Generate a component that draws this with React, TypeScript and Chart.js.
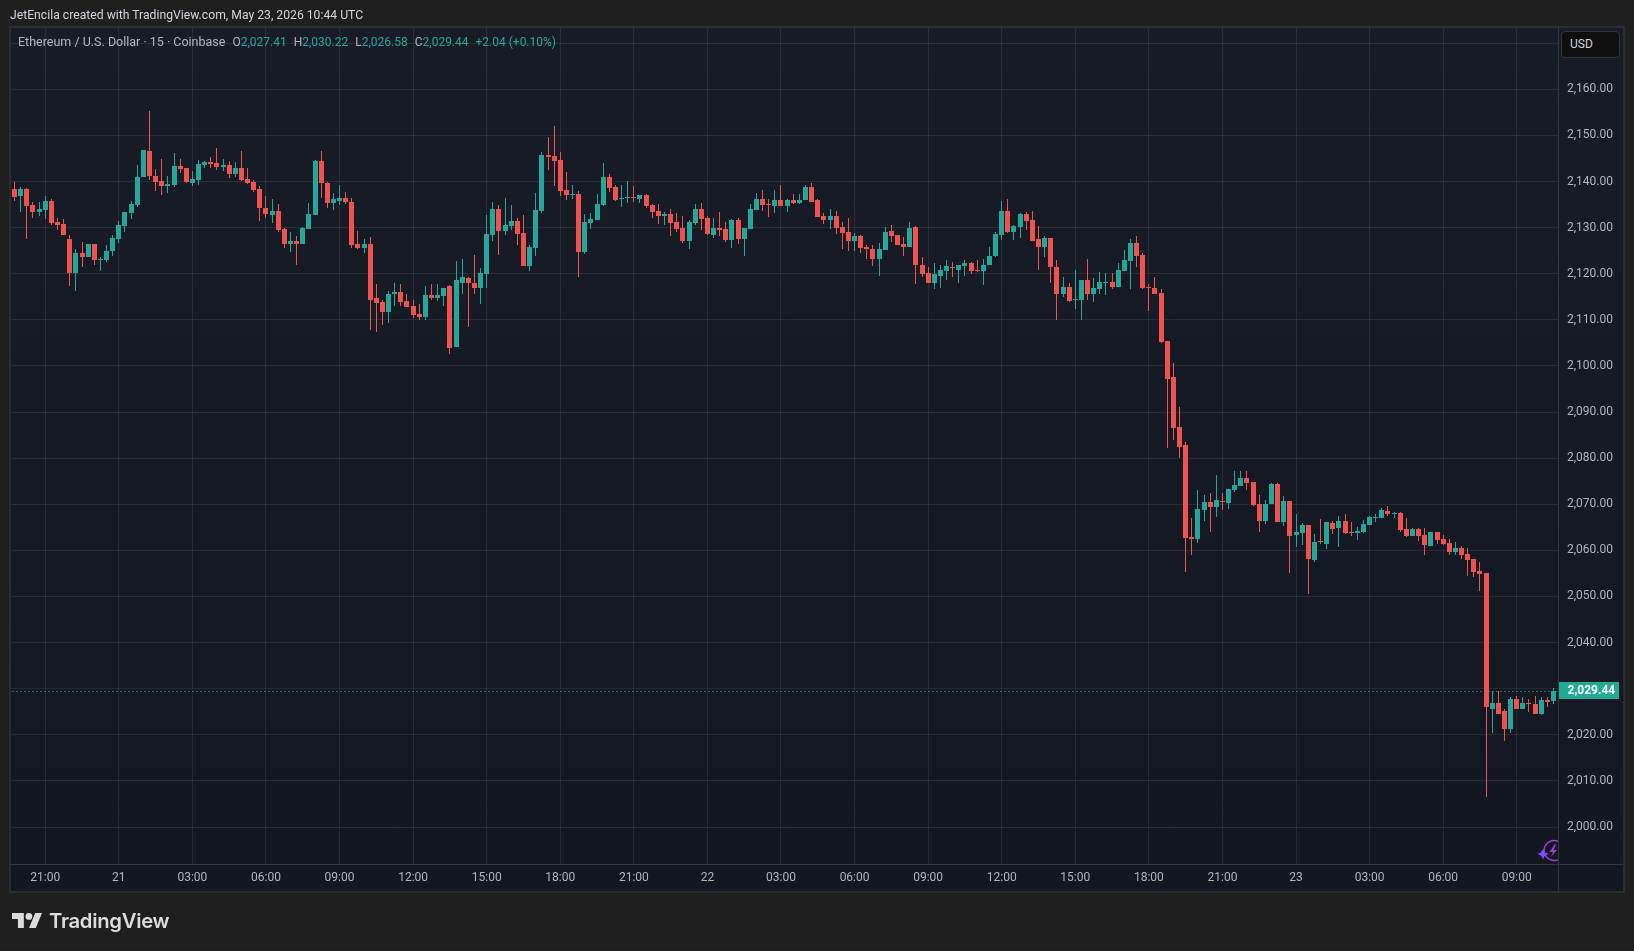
import React, { useEffect, useRef } from "react";
import { Chart, registerables } from "chart.js";

Chart.register(...registerables);

const opens = [
  2138.3,2136.8,2138.3,2134.9,2133.4,2133.8,2135.7,2131.2,2130.7,2127.5,
  2120.1,2124.4,2123.6,2126.4,2122.9,2122.9,2124.9,2127.5,2130.3,2133.1,
  2134.9,2141.0,2146.6,2141.2,2140.1,2139.0,2139.2,2143.4,2142.9,2139.7,
  2140.3,2143.6,2144.2,2144.0,2143.1,2143.6,2141.6,2142.9,2140.5,2139.9,
  2138.3,2134.2,2132.7,2133.6,2129.7,2126.4,2127.1,2126.4,2129.7,2132.7,
  2144.4,2139.7,2135.3,2135.7,2136.4,2135.5,2126.4,2125.5,2126.4,2114.7,
  2113.8,2111.8,2115.5,2116.0,2114.0,2112.9,2111.2,2110.7,2115.3,2114.7,
  2115.1,2117.3,2104.2,2118.1,2119.0,2118.1,2117.0,2119.9,2128.4,2134.0,
  2129.2,2130.3,2131.4,2128.8,2121.6,2125.5,2133.6,2145.7,2145.5,2144.7,
  2138.1,2137.0,2137.3,2124.7,2131.0,2131.6,2134.9,2141.0,2138.8,2136.2,
  2136.4,2136.6,2136.2,2137.0,2134.9,2133.6,2132.5,2132.9,2131.2,2129.9,
  2127.1,2131.0,2134.0,2132.0,2128.4,2129.9,2129.7,2127.3,2131.6,2127.5,
  2129.7,2133.8,2136.2,2135.1,2134.7,2136.0,2134.7,2136.0,2135.3,2136.0,
  2138.8,2136.0,2132.5,2131.6,2132.5,2130.1,2129.0,2127.0,2128.1,2125.7,
  2125.3,2123.1,2125.1,2129.2,2128.3,2126.4,2125.7,2130.1,2122.0,2120.1,
  2118.1,2119.6,2120.7,2121.4,2120.9,2121.6,2122.3,2120.9,2120.5,2121.8,
  2123.8,2128.3,2133.6,2129.0,2130.1,2132.9,2131.6,2127.5,2125.7,2127.7,
  2121.4,2115.5,2117.2,2114.4,2114.4,2118.6,2115.5,2116.8,2117.9,2118.3,
  2117.2,2120.7,2122.7,2126.6,2124.0,2117.2,2117.0,2115.9,2105.5,2097.5,
  2086.8,2082.9,2062.9,2062.5,2068.8,2070.5,2069.4,2070.7,2070.3,2073.1,
  2074.0,2075.7,2074.9,2070.1,2066.4,2070.1,2074.4,2066.2,2070.7,2063.3,
  2063.8,2065.5,2057.9,2062.0,2061.4,2065.9,2064.9,2066.4,2064.0,2063.8,
  2064.0,2065.5,2067.0,2067.0,2068.6,2067.9,2068.1,2064.6,2063.1,2064.6,
  2063.3,2060.9,2064.0,2062.5,2061.6,2059.6,2060.5,2059.2,2058.1,2055.5,
  2055.1,2025.7,2027.0,2025.1,2021.2,2027.7,2025.7,2026.8,2026.6,2024.6,
  2027.5,2027.41,
];

const highs = [
  2139.9,2138.8,2138.6,2135.5,2135.5,2136.8,2136.2,2132.0,2131.8,2128.4,
  2125.3,2126.8,2126.4,2126.4,2123.6,2126.2,2128.4,2131.4,2133.4,2135.7,
  2143.6,2146.8,2155.3,2142.7,2144.9,2141.2,2146.2,2144.9,2142.9,2142.3,
  2144.7,2144.4,2145.3,2147.3,2144.9,2144.4,2144.2,2146.6,2142.9,2140.3,
  2139.0,2136.8,2136.2,2135.1,2129.9,2129.0,2128.1,2130.1,2135.3,2144.7,
  2146.6,2139.9,2137.5,2139.2,2137.7,2136.4,2129.2,2127.5,2127.9,2117.7,
  2114.4,2116.2,2118.1,2117.7,2115.5,2114.4,2113.4,2117.3,2117.7,2117.7,
  2117.0,2117.5,2122.7,2123.1,2119.2,2124.0,2121.2,2132.7,2135.5,2134.9,
  2136.4,2134.9,2132.0,2132.7,2126.2,2137.5,2146.4,2149.7,2152.0,2146.4,
  2142.0,2139.2,2137.9,2132.9,2133.1,2137.3,2144.0,2141.6,2139.2,2139.2,
  2140.1,2139.0,2137.0,2137.3,2135.1,2135.1,2133.4,2134.0,2133.1,2132.5,
  2131.6,2135.1,2135.3,2132.5,2132.0,2133.4,2131.2,2131.8,2132.0,2129.9,
  2135.1,2137.5,2138.1,2136.2,2138.1,2139.2,2136.2,2137.3,2137.3,2139.2,
  2139.6,2136.2,2133.1,2134.0,2133.6,2131.2,2132.0,2128.8,2128.3,2126.2,
  2126.2,2126.6,2130.1,2130.5,2128.3,2127.9,2131.2,2130.3,2123.6,2121.4,
  2122.3,2121.8,2122.9,2122.5,2122.0,2122.9,2122.5,2122.9,2123.1,2125.7,
  2129.0,2135.7,2136.2,2130.5,2133.1,2133.3,2133.6,2130.3,2128.1,2127.7,
  2122.9,2119.2,2117.9,2120.9,2118.6,2123.1,2119.0,2120.3,2120.1,2120.1,
  2122.3,2125.1,2127.5,2128.1,2124.4,2117.7,2119.2,2116.6,2105.5,2100.7,
  2091.0,2083.5,2067.0,2073.1,2072.0,2072.5,2076.4,2072.5,2073.3,2077.2,
  2077.2,2077.2,2074.9,2072.0,2070.9,2074.6,2074.6,2071.8,2070.7,2067.9,
  2065.9,2065.5,2063.5,2066.8,2066.2,2066.4,2067.5,2067.9,2066.2,2065.1,
  2066.6,2067.5,2067.9,2069.2,2069.6,2068.3,2068.3,2067.0,2064.9,2064.9,
  2064.9,2064.0,2064.0,2063.3,2062.5,2061.8,2060.9,2060.5,2058.1,2057.5,
  2055.1,2029.4,2029.4,2025.5,2028.1,2028.5,2028.1,2027.7,2028.5,2028.1,
  2028.1,2030.22,
];

const lows = [
  2135.7,2133.4,2127.5,2132.0,2132.5,2131.8,2130.5,2129.4,2128.4,2117.3,
  2116.2,2121.4,2123.6,2122.0,2120.5,2122.5,2123.8,2126.6,2129.0,2131.8,
  2134.4,2141.0,2140.3,2137.9,2137.0,2137.5,2138.8,2141.8,2139.7,2139.0,
  2139.2,2142.9,2142.9,2142.5,2142.3,2140.7,2141.0,2140.1,2139.4,2137.7,
  2131.4,2132.0,2131.0,2129.0,2125.5,2124.7,2122.0,2126.4,2129.7,2132.7,
  2136.4,2134.2,2133.8,2134.9,2135.1,2125.5,2125.3,2124.4,2107.7,2107.3,
  2108.8,2109.4,2113.1,2112.9,2112.7,2110.3,2109.9,2109.9,2114.2,2114.0,
  2113.1,2102.5,2104.2,2115.5,2108.4,2115.7,2113.4,2117.0,2127.1,2124.0,
  2128.4,2129.4,2126.2,2121.6,2120.7,2123.8,2133.1,2142.5,2139.0,2136.8,
  2136.0,2136.2,2119.4,2124.2,2129.7,2131.6,2134.7,2137.7,2135.7,2134.4,
  2135.3,2135.5,2135.3,2134.2,2132.0,2130.7,2130.5,2128.1,2129.0,2126.6,
  2125.3,2130.5,2129.4,2128.4,2127.7,2128.1,2126.8,2125.5,2126.4,2123.8,
  2129.7,2133.8,2133.6,2132.3,2133.1,2134.7,2133.4,2135.1,2135.1,2136.0,
  2135.5,2132.2,2130.7,2129.6,2128.6,2125.3,2124.9,2124.9,2124.4,2123.3,
  2121.6,2119.6,2125.1,2126.8,2126.2,2123.8,2125.7,2117.7,2119.2,2117.9,
  2116.6,2117.0,2118.6,2119.4,2118.1,2119.6,2119.9,2120.3,2117.5,2121.8,
  2123.6,2127.3,2128.8,2127.3,2127.7,2129.4,2127.0,2120.9,2123.6,2118.1,
  2109.9,2114.9,2113.8,2112.3,2109.9,2114.4,2113.8,2115.7,2115.3,2116.8,
  2117.2,2120.7,2116.8,2121.4,2116.8,2112.0,2115.5,2104.9,2082.3,2084.0,
  2080.1,2055.3,2059.0,2061.6,2066.4,2064.0,2067.2,2068.8,2069.0,2072.7,
  2074.0,2073.1,2069.6,2064.0,2065.7,2070.1,2066.2,2065.3,2055.1,2060.7,
  2061.2,2050.5,2057.5,2061.4,2060.3,2063.5,2060.7,2063.5,2063.1,2062.3,
  2063.8,2065.5,2066.2,2067.0,2067.5,2067.0,2064.0,2062.9,2063.1,2062.0,
  2059.0,2060.9,2061.4,2061.2,2059.0,2059.0,2058.1,2054.4,2054.2,2051.2,
  2006.6,2020.3,2024.6,2018.6,2020.3,2025.7,2025.7,2024.9,2024.6,2024.4,
  2026.0,2026.58,
];

const closes = [
  2136.6,2138.3,2134.7,2133.4,2134.0,2135.7,2131.0,2130.5,2128.4,2120.1,
  2124.4,2123.6,2126.4,2122.9,2123.1,2124.9,2127.7,2130.5,2133.4,2135.1,
  2141.0,2146.8,2141.2,2139.9,2139.0,2139.4,2143.4,2142.7,2139.9,2140.5,
  2143.8,2144.2,2143.8,2143.1,2143.6,2141.6,2142.9,2140.3,2139.7,2138.1,
  2134.2,2132.9,2133.6,2129.4,2126.4,2127.1,2126.4,2129.9,2132.9,2144.4,
  2139.7,2135.3,2136.2,2136.4,2135.5,2126.2,2125.5,2126.4,2114.4,2113.6,
  2111.8,2115.7,2116.0,2113.8,2112.7,2111.0,2110.7,2115.3,2114.7,2115.3,
  2117.0,2104.0,2118.6,2119.2,2117.9,2117.0,2120.1,2128.6,2134.0,2129.2,
  2130.5,2131.4,2128.6,2121.6,2125.7,2133.8,2145.7,2145.3,2144.4,2137.9,
  2137.0,2137.3,2124.7,2131.2,2131.8,2135.1,2141.0,2138.6,2136.0,2136.4,
  2136.6,2136.4,2137.0,2134.7,2133.4,2132.5,2132.9,2131.0,2129.7,2127.1,
  2131.2,2134.0,2131.8,2128.6,2129.9,2129.4,2127.3,2131.6,2127.5,2129.9,
  2134.0,2136.2,2134.9,2134.9,2136.0,2134.7,2136.0,2135.3,2136.0,2138.8,
  2135.5,2132.2,2131.6,2132.5,2129.9,2128.8,2127.0,2128.1,2125.5,2125.3,
  2123.1,2125.3,2129.0,2128.1,2126.2,2125.7,2129.9,2121.8,2119.9,2118.1,
  2119.9,2120.9,2121.6,2121.2,2121.8,2122.3,2120.7,2120.5,2122.0,2123.8,
  2128.6,2133.6,2129.0,2130.3,2132.9,2131.4,2127.0,2125.7,2127.7,2121.4,
  2115.5,2117.2,2114.0,2114.6,2118.6,2115.5,2117.0,2118.3,2118.3,2117.2,
  2120.9,2122.9,2126.6,2123.8,2117.0,2117.0,2115.7,2105.3,2097.2,2086.6,
  2082.5,2062.7,2062.5,2069.0,2070.5,2069.4,2070.9,2070.5,2073.3,2074.2,
  2075.7,2074.6,2069.9,2066.4,2070.1,2074.4,2066.2,2070.7,2063.1,2064.0,
  2065.5,2058.1,2061.8,2061.8,2066.2,2064.6,2066.4,2063.8,2063.8,2064.2,
  2065.7,2067.2,2067.2,2068.8,2067.9,2068.1,2064.4,2063.1,2064.6,2063.1,
  2061.2,2064.0,2062.2,2061.4,2059.6,2060.5,2059.0,2057.9,2055.3,2054.9,
  2026.0,2027.0,2024.6,2021.2,2027.7,2025.7,2026.8,2026.6,2024.6,2027.5,
  2027.2,2029.44,
];

const timeTickLabels = [
  "21:00","21","03:00","06:00","09:00","12:00","15:00","18:00","21:00",
  "22","03:00","06:00","09:00","12:00","15:00","18:00","21:00",
  "23","03:00","06:00","09:00",
];
const priceTickValues = [
  2000,2010,2020,2030,2040,2050,2060,2070,2080,2090,2100,2110,2120,2130,2140,2150,2160,2170,
];
const hiddenPriceTick = 2170;
const lastPriceText = "2,029.44";

const firstTickBar = 5;
const barsPerTick = 12;

const UP = "#26a69a";
const DOWN = "#ef5350";
const GRID = "rgba(240,243,250,0.085)";
const AXIS_LINE = "#33363f";
const TICK_TEXT = "#b2b5be";
const FONT = "Roboto";

const barColor = (i: number) => (closes[i] >= opens[i] ? UP : DOWN);

const panePlugin = {
  id: "pane",
  beforeDraw(chart: any) {
    const { ctx, chartArea: a, width, height, scales } = chart;
    const right = scales.y.right;
    const bottom = scales.x.bottom;
    ctx.save();
    ctx.fillStyle = "#1f1f1f";
    ctx.fillRect(0, 0, width, height);
    const g = ctx.createLinearGradient(0, a.top, 0, bottom);
    g.addColorStop(0, "#181c27");
    g.addColorStop(1, "#131722");
    ctx.fillStyle = g;
    ctx.fillRect(a.left, a.top, right - a.left, bottom - a.top);
    ctx.strokeStyle = "#2b2c2e";
    ctx.lineWidth = 2;
    ctx.strokeRect(a.left - 1, a.top - 1, right - a.left + 2, bottom - a.top + 2);
    ctx.restore();
  },
  afterDatasetsUpdate(chart: any) {
    chart.data.datasets.forEach((ds: any, di: number) => {
      const meta = chart.getDatasetMeta(di);
      meta.data.forEach((el: any) => {
        if (ds.type === "line") {
          el.y = Math.floor(el.y) + 0.5;
          return;
        }
        el.x = Math.round(el.x - 0.5) + 0.5;
        el.y = Math.round(el.y);
        el.base = Math.round(el.base);
        if (el.y === el.base) el.base += 1;
      });
    });
  },
  afterDraw(chart: any) {
    const { ctx, chartArea: a, scales } = chart;
    const right = scales.y.right;
    const bottom = scales.x.bottom;
    ctx.save();
    ctx.fillStyle = AXIS_LINE;
    ctx.fillRect(a.left, Math.round(a.bottom), right - a.left, 1);
    ctx.fillRect(Math.round(a.right), a.top, 1, bottom - a.top);
    const y = scales.y.getPixelForValue(closes[closes.length - 1]);
    ctx.fillStyle = "#22ab94";
    ctx.fillRect(a.right + 1, Math.round(y) - 9, 60, 17);
    ctx.fillStyle = "#ffffff";
    ctx.font = `bold 12px ${FONT}`;
    ctx.textBaseline = "middle";
    ctx.textAlign = "left";
    ctx.fillText(lastPriceText, a.right + 9.5, Math.round(y));
    ctx.restore();
  },
};

const overlayText = (left: number, top: number): React.CSSProperties => ({
  position: "absolute",
  left,
  top,
  font: `12px ${FONT}`,
  lineHeight: "16px",
  whiteSpace: "pre",
});

export default function App() {
  const ref = useRef<HTMLCanvasElement>(null);

  useEffect(() => {
    document.body.style.margin = "0";
    document.body.style.background = "#1f1f1f";
    const bars = opens.map((_, i) => i);
    const tickBars = timeTickLabels.map((_, i) => firstTickBar + i * barsPerTick);
    const chart = new Chart(ref.current as HTMLCanvasElement, {
      type: "bar",
      data: {
        datasets: [
          {
            type: "line",
            data: [
              { x: -1, y: closes[closes.length - 1] },
              { x: 252, y: closes[closes.length - 1] },
            ],
            borderColor: "#2bbfa8",
            borderWidth: 1,
            borderDash: [1, 3],
            pointRadius: 0,
            order: 0,
          },
          {
            data: bars.map((i) => ({ x: i, y: [lows[i], highs[i]] })),
            backgroundColor: (c: any) => barColor(c.dataIndex),
            barThickness: 1,
            grouped: false,
            inflateAmount: 0,
            order: 2,
          },
          {
            data: bars.map((i) => ({ x: i, y: [opens[i], closes[i]] })),
            backgroundColor: (c: any) => barColor(c.dataIndex),
            barThickness: 5,
            grouped: false,
            inflateAmount: 0,
            order: 1,
          },
        ] as any,
      },
      options: {
        responsive: false,
        animation: false,
        events: [],
        layout: { padding: { left: 11, top: 28, right: 11, bottom: 60 } },
        plugins: { legend: { display: false }, tooltip: { enabled: false }, title: { display: false } },
        scales: {
          x: {
            type: "linear",
            position: "bottom",
            offset: false,
            min: -0.587,
            max: 251.73,
            grid: { color: GRID, lineWidth: 1, drawTicks: false, offset: false },
            border: { display: false },
            afterBuildTicks: (s: any) => {
              s.ticks = tickBars.map((value) => ({ value }));
            },
            afterFit: (s: any) => {
              s.height = 27;
            },
            ticks: {
              autoSkip: false,
              maxRotation: 0,
              padding: 7,
              color: TICK_TEXT,
              font: { family: FONT, size: 12 },
              callback: (_v: any, i: number) => timeTickLabels[i],
            },
          },
          y: {
            type: "linear",
            position: "right",
            min: 1991.98,
            max: 2173.3,
            grid: { color: GRID, lineWidth: 1, drawTicks: false },
            border: { display: false },
            afterBuildTicks: (s: any) => {
              s.ticks = priceTickValues.map((value) => ({ value }));
            },
            afterFit: (s: any) => {
              s.width = 65;
            },
            ticks: {
              padding: 9,
              color: TICK_TEXT,
              font: { family: FONT, size: 12 },
              callback: (v: any) =>
                v === hiddenPriceTick
                  ? ""
                  : Number(v).toLocaleString("en-US", { minimumFractionDigits: 2, maximumFractionDigits: 2 }),
            },
          },
        },
      } as any,
      plugins: [panePlugin],
    });
    return () => chart.destroy();
  }, []);

  const teal = { color: "#26a69a" };
  const grey = { color: "#b2b5be" };

  return (
    <div style={{ position: "absolute", left: 0, top: 0, width: 1634, height: 951, overflow: "hidden" }}>
      <canvas ref={ref} width={1634} height={951} style={{ display: "block", width: 1634, height: 951 }} />
      <div style={{ ...overlayText(10, 7), color: "#d1d4dc", fontSize: 12.2 }}>
        JetEncila created with TradingView.com, May 23, 2026 10:44 UTC
      </div>
      <div style={{ ...overlayText(18, 34), fontSize: 12 }}>
        <span style={{ ...grey, fontSize: 12.5 }}>Ethereum / U.S. Dollar · 15 · Coinbase</span>
        <span style={{ ...grey, marginLeft: 7 }}>O</span>
        <span style={teal}>2,027.41</span>
        <span style={{ ...grey, marginLeft: 7 }}>H</span>
        <span style={teal}>2,030.22</span>
        <span style={{ ...grey, marginLeft: 7 }}>L</span>
        <span style={teal}>2,026.58</span>
        <span style={{ ...grey, marginLeft: 7 }}>C</span>
        <span style={teal}>2,029.44</span>
        <span style={{ ...teal, marginLeft: 7 }}>+2.04 (+0.10%)</span>
      </div>
      <div
        style={{
          position: "absolute",
          left: 1561,
          top: 31,
          width: 59,
          height: 27,
          boxSizing: "border-box",
          background: "#0f0f0f",
          border: "1px solid #34353a",
          borderRadius: 4,
          color: "#d1d4dc",
          font: `12px ${FONT}`,
          lineHeight: "25px",
          paddingLeft: 8,
        }}
      >
        USD
      </div>
      <svg
        width={21}
        height={26}
        viewBox="0 0 21 26"
        style={{ position: "absolute", left: 1537, top: 838 }}
      >
        <circle cx={17} cy={12.5} r={10} fill="none" stroke="#9c3fc4" strokeWidth={1.4} />
        <path d="M17.5 6.5 L12.5 14 L16 14 L14 19 L20 12 L16.5 12 L19 6.5 Z" fill="#a23fd0" />
        <path d="M6 10.5 L7.8 14.2 L11.5 16 L7.8 17.8 L6 21.5 L4.2 17.8 L0.5 16 L4.2 14.2 Z" fill="#7c4dff" />
      </svg>
      <svg
        width={30}
        height={15.4}
        viewBox="0 4 35.5 18"
        style={{ position: "absolute", left: 12, top: 913 }}
      >
        <path d="M14 22H7V11H0V4h14v18zM28 22h-8l7.5-18h8L28 22z" fill="#dcdcdc" />
        <circle cx={20} cy={8} r={4} fill="#dcdcdc" />
      </svg>
      <div
        style={{
          position: "absolute",
          left: 49,
          top: 907,
          font: `600 20.3px Inter`,
          lineHeight: "28px",
          color: "#dcdcdc",
          letterSpacing: "-0.3px",
        }}
      >
        TradingView
      </div>
    </div>
  );
}
